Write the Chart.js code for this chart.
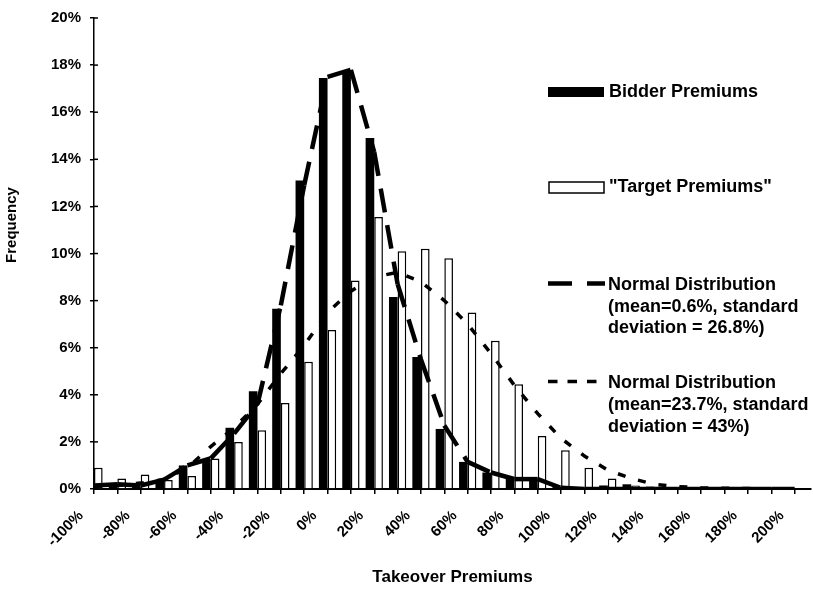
<!DOCTYPE html>
<html><head><meta charset="utf-8">
<script src="https://cdn.jsdelivr.net/npm/chart.js@4"></script>
<style>html,body{margin:0;padding:0;background:#fff}canvas{display:block}</style>
</head><body>
<canvas id="c" width="813" height="590"></canvas>
<script>
// ---- data (values in %) ----
const categories = [-100,-90,-80,-70,-60,-50,-40,-30,-20,-10,0,10,20,30,40,50,60,70,80,90,100,110,120,130,140,150,160,170,180,190,200];
const bidderPremiums = [0.2,0.2,0.1,0.3,1.0,1.2,2.6,4.15,7.65,13.1,17.45,17.75,14.9,8.15,5.6,2.55,1.15,0.7,0.5,0.45,0.1,0.05,0.15,0.2,0.1,0.05,0,0,0,0,0];
const targetPremiums = [0.9,0.45,0.62,0.38,0.55,1.3,2.0,2.5,3.65,5.4,6.75,8.85,11.55,10.1,10.2,9.8,7.5,6.3,4.45,2.25,1.65,0.9,0.45,0.15,0.1,0,0,0,0,0,0];
const normalBidder = [0.15,0.2,0.15,0.4,1.0,1.3,2.35,3.6,7.8,12.9,17.5,17.8,14.3,8.7,5.5,2.7,1.15,0.7,0.42,0.42,0.05,0,0,0,0,0,0,0,0,0,0];
const normalTarget = [0.1,0.15,0.25,0.4,0.9,1.8,2.6,3.6,4.9,6.1,7.5,8.4,9.0,9.2,8.8,8.0,7.0,5.75,4.4,3.2,2.15,1.4,0.8,0.45,0.2,0.1,0.05,0.03,0.02,0.01,0.01];
const yTickValues = [0,2,4,6,8,10,12,14,16,18,20];

const seriesNames = ['Bidder Premiums', '"Target Premiums"',
  ['Normal Distribution','(mean=0.6%, standard','deviation = 26.8%)'],
  ['Normal Distribution','(mean=23.7%, standard','deviation = 43%)']];
const xTitle = 'Takeover Premiums';
const yTitle = 'Frequency';

const FONT = '"Liberation Sans", Arial, Helvetica, sans-serif';
const pts = arr => categories.map((c, i) => ({x: c, y: arr[i]}));

const legendPlugin = {
  id: 'sideLegend',
  afterDraw(chart) {
    const ctx = chart.ctx;
    const ds = chart.data.datasets;
    ctx.save();
    ctx.fillStyle = '#000';
    ctx.strokeStyle = '#000';
    ctx.font = 'bold 18px ' + FONT;
    ctx.textBaseline = 'middle';
    ctx.textAlign = 'left';
    // Bidder
    ctx.fillRect(548, 87, 56, 10);
    ctx.fillText(ds[0].label, 609, 92);
    // Target
    ctx.fillStyle = '#fff';
    ctx.fillRect(549, 182, 55, 11);
    ctx.lineWidth = 1.5;
    ctx.strokeRect(549, 182, 55, 11);
    ctx.fillStyle = '#000';
    ctx.fillText(ds[1].label, 609, 187);
    // Normal 1
    ctx.lineWidth = 4.5;
    ctx.setLineDash([24, 15]);
    ctx.beginPath(); ctx.moveTo(548, 283.5); ctx.lineTo(605, 283.5); ctx.stroke();
    ds[2].label.forEach((t, i) => ctx.fillText(t, 608, 285 + i * 21.7));
    // Normal 2
    ctx.lineWidth = 3.5;
    ctx.setLineDash([9.5, 10]);
    ctx.beginPath(); ctx.moveTo(548, 381.5); ctx.lineTo(605, 381.5); ctx.stroke();
    ctx.setLineDash([]);
    ds[3].label.forEach((t, i) => ctx.fillText(t, 608, 383.5 + i * 21.7));
    // Y title
    ctx.font = 'bold 15px ' + FONT;
    ctx.textAlign = 'center';
    ctx.translate(12, 225);
    ctx.rotate(-Math.PI / 2);
    ctx.fillText(yTitle, 0, 0);
    ctx.restore();
    // inner y tick stubs
    const ys = chart.scales.y;
    ctx.save();
    ctx.strokeStyle = '#000'; ctx.lineWidth = 1.5;
    ys.ticks.forEach(t => {
      const py = ys.getPixelForValue(t.value);
      ctx.beginPath(); ctx.moveTo(ys.right, py); ctx.lineTo(ys.right + 4, py); ctx.stroke();
    });
    ctx.restore();
  }
};

new Chart(document.getElementById('c'), {
  data: {
    datasets: [
      {type: 'bar', label: seriesNames[0], data: pts(bidderPremiums), backgroundColor: '#000', borderWidth: 0, order: 1},
      {type: 'bar', label: seriesNames[1], data: pts(targetPremiums), backgroundColor: '#fff', borderColor: '#000', borderWidth: {top: 1.5, left: 1.5, right: 1.5, bottom: 0}, order: 1},
      {type: 'line', label: seriesNames[2], data: pts(normalBidder), borderColor: '#000', borderWidth: 4.5, borderDash: [24, 13], borderCapStyle: 'butt',
        pointRadius: 0, tension: 0, order: 0, segment: {borderDashOffset: c => c.p0DataIndex * 0.001}},
      {type: 'line', label: seriesNames[3], data: pts(normalTarget), borderColor: '#000', borderWidth: 3.5, borderDash: [8, 13], borderCapStyle: 'butt',
        pointRadius: 0, tension: 0, order: 0}
    ]
  },
  options: {
    responsive: false,
    devicePixelRatio: 1,
    animation: false,
    layout: {padding: {top: 13, right: 2, left: 0, bottom: 0}},
    datasets: {bar: {categoryPercentage: 0.74, barPercentage: 1, grouped: true}},
    plugins: {legend: {display: false}, tooltip: {enabled: false}},
    scales: {
      x: {
        type: 'linear', min: -100, max: 207, offset: false,
        afterFit(s) { s.height = 101; s.paddingLeft = 0; s.paddingRight = 0; },
        grid: {display: true, offset: false, drawOnChartArea: false, drawTicks: true, tickLength: 5, color: '#000', lineWidth: 1.5},
        border: {display: true, color: '#000', width: 2},
        ticks: {stepSize: 10, autoSkip: false, includeBounds: false, maxRotation: 45, minRotation: 45, labelOffset: -13, padding: 13,
          color: '#000', font: {family: FONT, size: 15, weight: 'bold'},
          callback: v => (v % 20 === 0 ? v + '%' : '')},
        title: {display: true, text: xTitle, color: '#000', font: {family: FONT, size: 17, weight: 'bold'}, padding: {top: 0, bottom: 2}}
      },
      y: {
        min: 0, max: 20,
        afterFit(s) { s.width = 94; },
        afterBuildTicks(s) { s.ticks = yTickValues.map(v => ({value: v})); },
        grid: {display: true, drawOnChartArea: false, drawTicks: true, tickLength: 4, color: '#000', lineWidth: 1.5},
        border: {display: true, color: '#000', width: 1.5},
        ticks: {padding: 9, color: '#000', font: {family: FONT, size: 15, weight: 'bold'}, callback: v => v + '%'}
      }
    }
  },
  plugins: [legendPlugin]
});
</script>
</body></html>
